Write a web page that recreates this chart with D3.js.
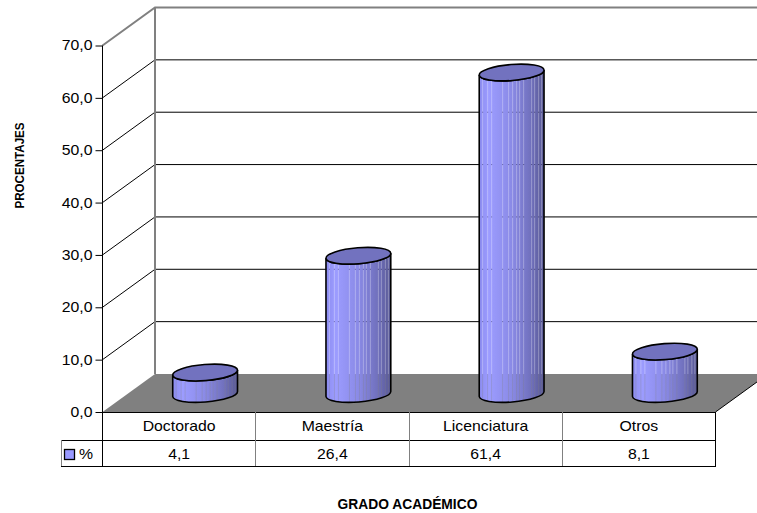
<!DOCTYPE html>
<html><head><meta charset="utf-8"><script src="https://cdn.jsdelivr.net/npm/d3@7"></script>
<style>html,body{margin:0;background:#fff}svg{display:block}text{font-family:"Liberation Sans",Arial,sans-serif;fill:#000}</style></head>
<body><svg id="c" width="757" height="513"></svg>
<script>
const categories=["Doctorado","Maestría","Licenciatura","Otros"];
const values=[4.1,26.4,61.4,8.1];
const valueLabels=["4,1","26,4","61,4","8,1"];
const ticks=[0,10,20,30,40,50,60,70];
const seriesName="%";
const xTitle="GRADO ACADÉMICO", yTitle="PROCENTAJES";

const svg=d3.select("#c");
const W=757;
const left=102.5,right=715.5,y0=412,y70=45.5,dx=52.5,dy=38;
const y=d3.scaleLinear().domain([0,70]).range([y0,y70]);
const x=d3.scaleBand().domain(categories).range([left,right]);
const rx=32.5,ry=8,rot=-4.5;
const baseOff=18;
const stretch=1.13;

const defs=svg.append("defs");
const g=defs.append("linearGradient").attr("id","body");
[[0,"#8c8cf0"],[.15,"#9c9cff"],[.5,"#8a8ae6"],[.8,"#7070bc"],[1,"#585894"]].forEach(s=>g.append("stop").attr("offset",s[0]).attr("stop-color",s[1]));

svg.append("path").attr("fill","#808080")
  .attr("d",`M${left},${y0}L${left+dx},${y0-dy}L${right+dx},${y0-dy}L${right},${y0}Z`);

ticks.forEach(t=>{
  const yy=y(t), top=t===70;
  if(t>0) svg.append("path").attr("fill","none")
    .attr("stroke",top?"#808080":"#000").attr("stroke-width",top?2:1)
    .attr("d",`M${left},${yy}L${left+dx},${yy-dy}L${W},${yy-dy}`);
});
svg.append("line").attr("x1",left+dx).attr("x2",left+dx).attr("y1",y(70)-dy).attr("y2",y0-dy).attr("stroke","#808080").attr("stroke-width",2);
svg.append("line").attr("x1",right).attr("x2",right+dx).attr("y1",y0).attr("y2",y0-dy).attr("stroke","#000");
svg.append("line").attr("x1",left).attr("x2",left).attr("y1",y70).attr("y2",y0).attr("stroke","#000");
const ax=svg.append("g").attr("transform",`translate(${left},0)`)
  .call(d3.axisLeft(y).tickValues(ticks).tickSize(7).tickPadding(2).tickFormat(d=>d3.format(".1f")(d).replace(".",",")));
ax.select(".domain").remove();
ax.selectAll("line").attr("stroke","#000");
ax.selectAll("text").style("font-size","14px").style("font-family",'"Liberation Sans"').attr("fill","#000")
  .attr("x",-10/stretch).attr("transform",`scale(${stretch},1)`);

// cylinders: fine vertical gaps let whatever is behind (wall, grid, floor) show through
const stripeOffsets=[3,8,12,23,29,33,37,40,44,52,55,59,62];
const rad=rot*Math.PI/180, sx=rx*Math.cos(rad), sy=rx*Math.sin(rad);
categories.forEach((c,i)=>{
  const cx=x(c)+x.bandwidth()/2+26, by=y(0)-baseOff, ty=by-(y(0)-y(values[i]));
  const gg=svg.append("g");
  const bodyD=`M${cx-sx},${ty-sy}L${cx-sx},${by-sy}A${rx},${ry} ${rot} 0 0 ${cx+sx},${by+sy}L${cx+sx},${ty+sy}A${rx},${ry} ${rot} 0 1 ${cx-sx},${ty-sy}Z`;
  const m=defs.append("mask").attr("id","m"+i).attr("maskUnits","userSpaceOnUse")
    .attr("x",cx-rx-2).attr("y",ty-12).attr("width",2*rx+4).attr("height",by-ty+24);
  m.append("rect").attr("x",cx-rx-2).attr("y",ty-12).attr("width",2*rx+4).attr("height",by-ty+24).attr("fill","#fff");
  stripeOffsets.forEach(o=>m.append("rect").attr("x",cx-rx+o).attr("y",ty-12).attr("width",1).attr("height",by-ty+24).attr("fill","#b4b4b4"));
  gg.append("path").attr("d",bodyD).attr("fill","url(#body)").attr("mask",`url(#m${i})`);
  gg.append("path").attr("d",bodyD).attr("fill","none").attr("stroke","#000").attr("stroke-width",1.6);
  gg.append("ellipse").attr("cx",cx).attr("cy",ty).attr("rx",rx).attr("ry",ry)
    .attr("transform",`rotate(${rot} ${cx} ${ty})`).attr("fill","#7272bf").attr("stroke","#000").attr("stroke-width",1.6);
});

const r1=440,r2=466,leg=61;
const ln=(x1,y1,x2,y2,c)=>svg.append("line").attr("x1",x1).attr("y1",y1).attr("x2",x2).attr("y2",y2).attr("stroke",c).attr("shape-rendering","crispEdges");
ln(left,y0,right,y0,"#000");
ln(leg,r1,right,r1,"#000");
ln(leg,r2,right,r2,"#000");
ln(left,y0,left,r2,"#000");
ln(right,y0,right,r2,"#000");
ln(leg,r1,leg,r2,"#808080");
const cellText=(px,py,s)=>svg.append("text").attr("transform",`translate(${px},${py}) scale(${stretch},1)`).attr("text-anchor","middle").style("font-size","14px").text(s);
categories.forEach((c,i)=>{
  const a=x(c), mid=a+x.bandwidth()/2;
  if(i>0) ln(a,y0,a,r2,"#808080");
  cellText(mid,431,c);
  cellText(mid,459,valueLabels[i]);
});
svg.append("rect").attr("x",64.5).attr("y",449.5).attr("width",10).attr("height",10).attr("fill","#9999ff").attr("stroke","#000").attr("stroke-width",1.3);
svg.append("text").attr("transform",`translate(79,459) scale(${stretch},1)`).style("font-size","14px").text(seriesName);

svg.append("text").attr("x",407.5).attr("y",509).attr("text-anchor","middle").style("font-size","13.8px").style("font-weight","700").text(xTitle);
svg.append("text").attr("transform","translate(24,165.5) rotate(-90) scale(0.86,1)").attr("text-anchor","middle").style("font-size","13.5px").style("font-weight","700").text(yTitle);
</script></body></html>
